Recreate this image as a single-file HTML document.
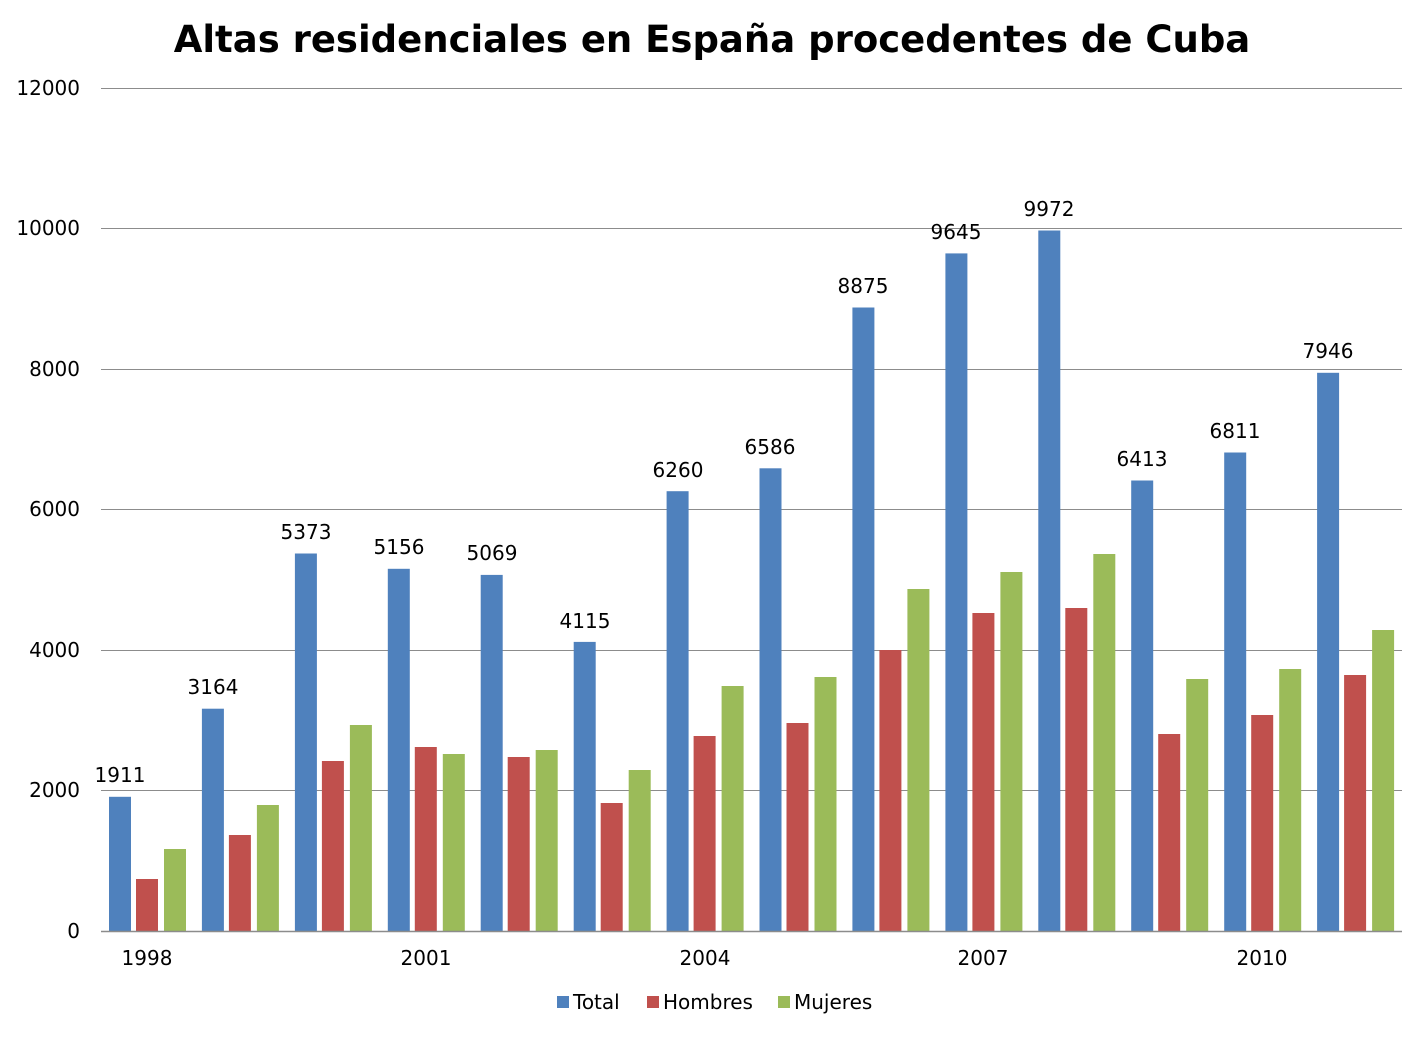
<!DOCTYPE html>
<html><head><meta charset="utf-8"><style>
html,body{margin:0;padding:0;background:#fff;}
svg text{font-family:"DejaVu Sans","Liberation Sans",sans-serif;fill:#000;}
</style></head><body>
<svg id="c" width="1426" height="1035" viewBox="0 0 1426 1035" xmlns="http://www.w3.org/2000/svg">
<text x="712" y="52" text-anchor="middle" font-size="37" font-weight="bold">Altas residenciales en España procedentes de Cuba</text>
<g stroke="#8c8c8c" stroke-width="1">
<line x1="101" y1="88.5" x2="1402" y2="88.5"/>
<line x1="101" y1="228.5" x2="1402" y2="228.5"/>
<line x1="101" y1="369.5" x2="1402" y2="369.5"/>
<line x1="101" y1="509.5" x2="1402" y2="509.5"/>
<line x1="101" y1="650.5" x2="1402" y2="650.5"/>
<line x1="101" y1="790.5" x2="1402" y2="790.5"/>
</g>
<g font-size="20" text-anchor="end">
<text x="80" y="95">12000</text>
<text x="80" y="235">10000</text>
<text x="80" y="376">8000</text>
<text x="80" y="516">6000</text>
<text x="80" y="657">4000</text>
<text x="80" y="797">2000</text>
<text x="80" y="938">0</text>
</g>
<g id="bars"></g>
<line x1="101" y1="931.5" x2="1402" y2="931.5" stroke="#8c8c8c" stroke-width="1.5"/>
<g font-size="20" text-anchor="middle">
<text x="147" y="965">1998</text>
<text x="426" y="965">2001</text>
<text x="705" y="965">2004</text>
<text x="983" y="965">2007</text>
<text x="1262" y="965">2010</text>
</g>
<g font-size="20" text-anchor="middle">
<text x="120" y="782">1911</text>
<text x="213" y="694">3164</text>
<text x="306" y="539">5373</text>
<text x="399" y="554">5156</text>
<text x="492" y="560">5069</text>
<text x="585" y="628">4115</text>
<text x="678" y="477">6260</text>
<text x="770" y="454">6586</text>
<text x="863" y="293">8875</text>
<text x="956" y="239">9645</text>
<text x="1049" y="216">9972</text>
<text x="1142" y="466">6413</text>
<text x="1235" y="438">6811</text>
<text x="1328" y="358">7946</text>
</g>
<g font-size="20">
<rect x="557" y="996" width="12" height="12" fill="#4f81bd"/><text x="573" y="1009">Total</text>
<rect x="647" y="996" width="12" height="12" fill="#c0504d"/><text x="663" y="1009">Hombres</text>
<rect x="778" y="996" width="12" height="12" fill="#9bbb59"/><text x="794" y="1009">Mujeres</text>
</g>
</svg>
<script>
var T=[1911,3164,5373,5156,5069,4115,6260,6586,8875,9645,9972,6413,6811,7946];
var H=[740,1367,2420,2619,2477,1822,2776,2961,4000,4527,4598,2804,3075,3644];
var M=[1167,1794,2932,2520,2577,2292,3488,3616,4868,5110,5367,3587,3730,4285];
var g=document.getElementById('bars'),s='';
function r(x,v,c){var h=v/2000*140.5;s+='<rect x="'+x.toFixed(1)+'" y="'+(931-h).toFixed(1)+'" width="22" height="'+h.toFixed(1)+'" fill="'+c+'"/>';}
for(var i=0;i<14;i++){var x0=109+i*92.93;r(x0,T[i],'#4f81bd');r(x0+27,H[i],'#c0504d');r(x0+55,M[i],'#9bbb59');}
g.innerHTML=s;
</script>
</body></html>
